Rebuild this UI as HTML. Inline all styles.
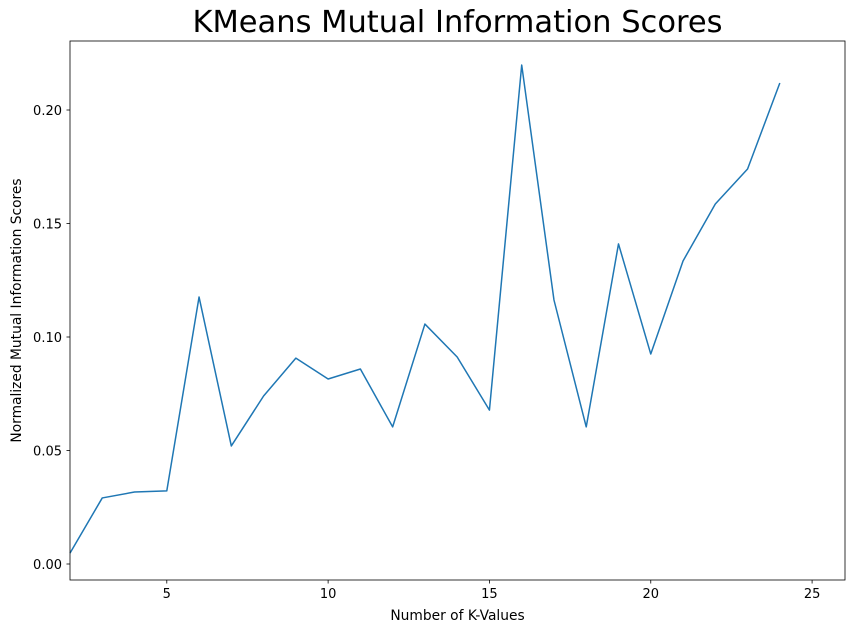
<!DOCTYPE html>
<html><head><meta charset="utf-8"><style>
body{margin:0;background:#fff;}
svg{display:block;font-family:"DejaVu Sans","Liberation Sans",sans-serif;}
</style></head><body>
<svg id="chart" width="855" height="633" viewBox="0 0 855 633" xmlns="http://www.w3.org/2000/svg"></svg>
<script>
const kValues=[2,3,4,5,6,7,8,9,10,11,12,13,14,15,16,17,18,19,20,21,22,23,24];
const miScores=[0.0048,0.0291,0.0317,0.0322,0.1176,0.0520,0.0740,0.0907,0.0815,0.0859,0.0604,0.1057,0.0912,0.0678,0.2198,0.1163,0.0604,0.1410,0.0925,0.1335,0.1586,0.1740,0.2119];
const xTicks=[5,10,15,20,25];
const yTicks=[0,0.05,0.10,0.15,0.20];
const yTickLabels=["0.00","0.05","0.10","0.15","0.20"];

const L=70,R=845,T=41,B=580;
const xMin=2,xMax=26.02,yMin=-0.00705,yMax=0.2304;
const xs=v=>L+(v-xMin)/(xMax-xMin)*(R-L);
const ys=v=>B-(v-yMin)/(yMax-yMin)*(B-T);
const svg=document.getElementById('chart');
const NS='http://www.w3.org/2000/svg';
function mk(tag,attrs,text){const e=document.createElementNS(NS,tag);for(const k in attrs)e.setAttribute(k,attrs[k]);if(text!==undefined)e.textContent=text;svg.appendChild(e);return e;}

let d='';
kValues.forEach((k,i)=>{d+=(i?'L':'M')+xs(k).toFixed(2)+','+ys(miScores[i]).toFixed(2);});
const line=mk('path',{d:d,fill:'none',stroke:'#1f77b4','stroke-width':1.5,'stroke-linejoin':'round'});



const frame=mk('rect',{x:L,y:T,width:R-L,height:B-T,fill:'none',stroke:'#000','stroke-width':0.8});



xTicks.forEach(t=>{
  const x=xs(t);
  const tk=mk('line',{x1:x,x2:x,y1:B,y2:B+3.5,stroke:'#000','stroke-width':0.8});
  
  
  const lb=mk('text',{x:x,y:B+18,'text-anchor':'middle','font-size':13,fill:'#000'},String(t));
  
  
});
yTicks.forEach((t,i)=>{
  const y=ys(t);
  const tk=mk('line',{x1:L-3.5,x2:L,y1:y,y2:y,stroke:'#000','stroke-width':0.8});
  
  
  const lb=mk('text',{x:L-8,y:y+5,'text-anchor':'end','font-size':13,fill:'#000'},yTickLabels[i]);
  
  
});

const title=mk('text',{x:(L+R)/2,y:32,'text-anchor':'middle','font-size':30.5,fill:'#000'},'KMeans Mutual Information Scores');


const xt=mk('text',{x:(L+R)/2,y:620,'text-anchor':'middle','font-size':13.8,fill:'#000'},'Number of K-Values');


const yt=mk('text',{x:0,y:0,'text-anchor':'middle','font-size':13.8,fill:'#000',transform:'translate(21,'+((T+B)/2)+') rotate(-90)'},'Normalized Mutual Information Scores');


</script>
</body></html>
